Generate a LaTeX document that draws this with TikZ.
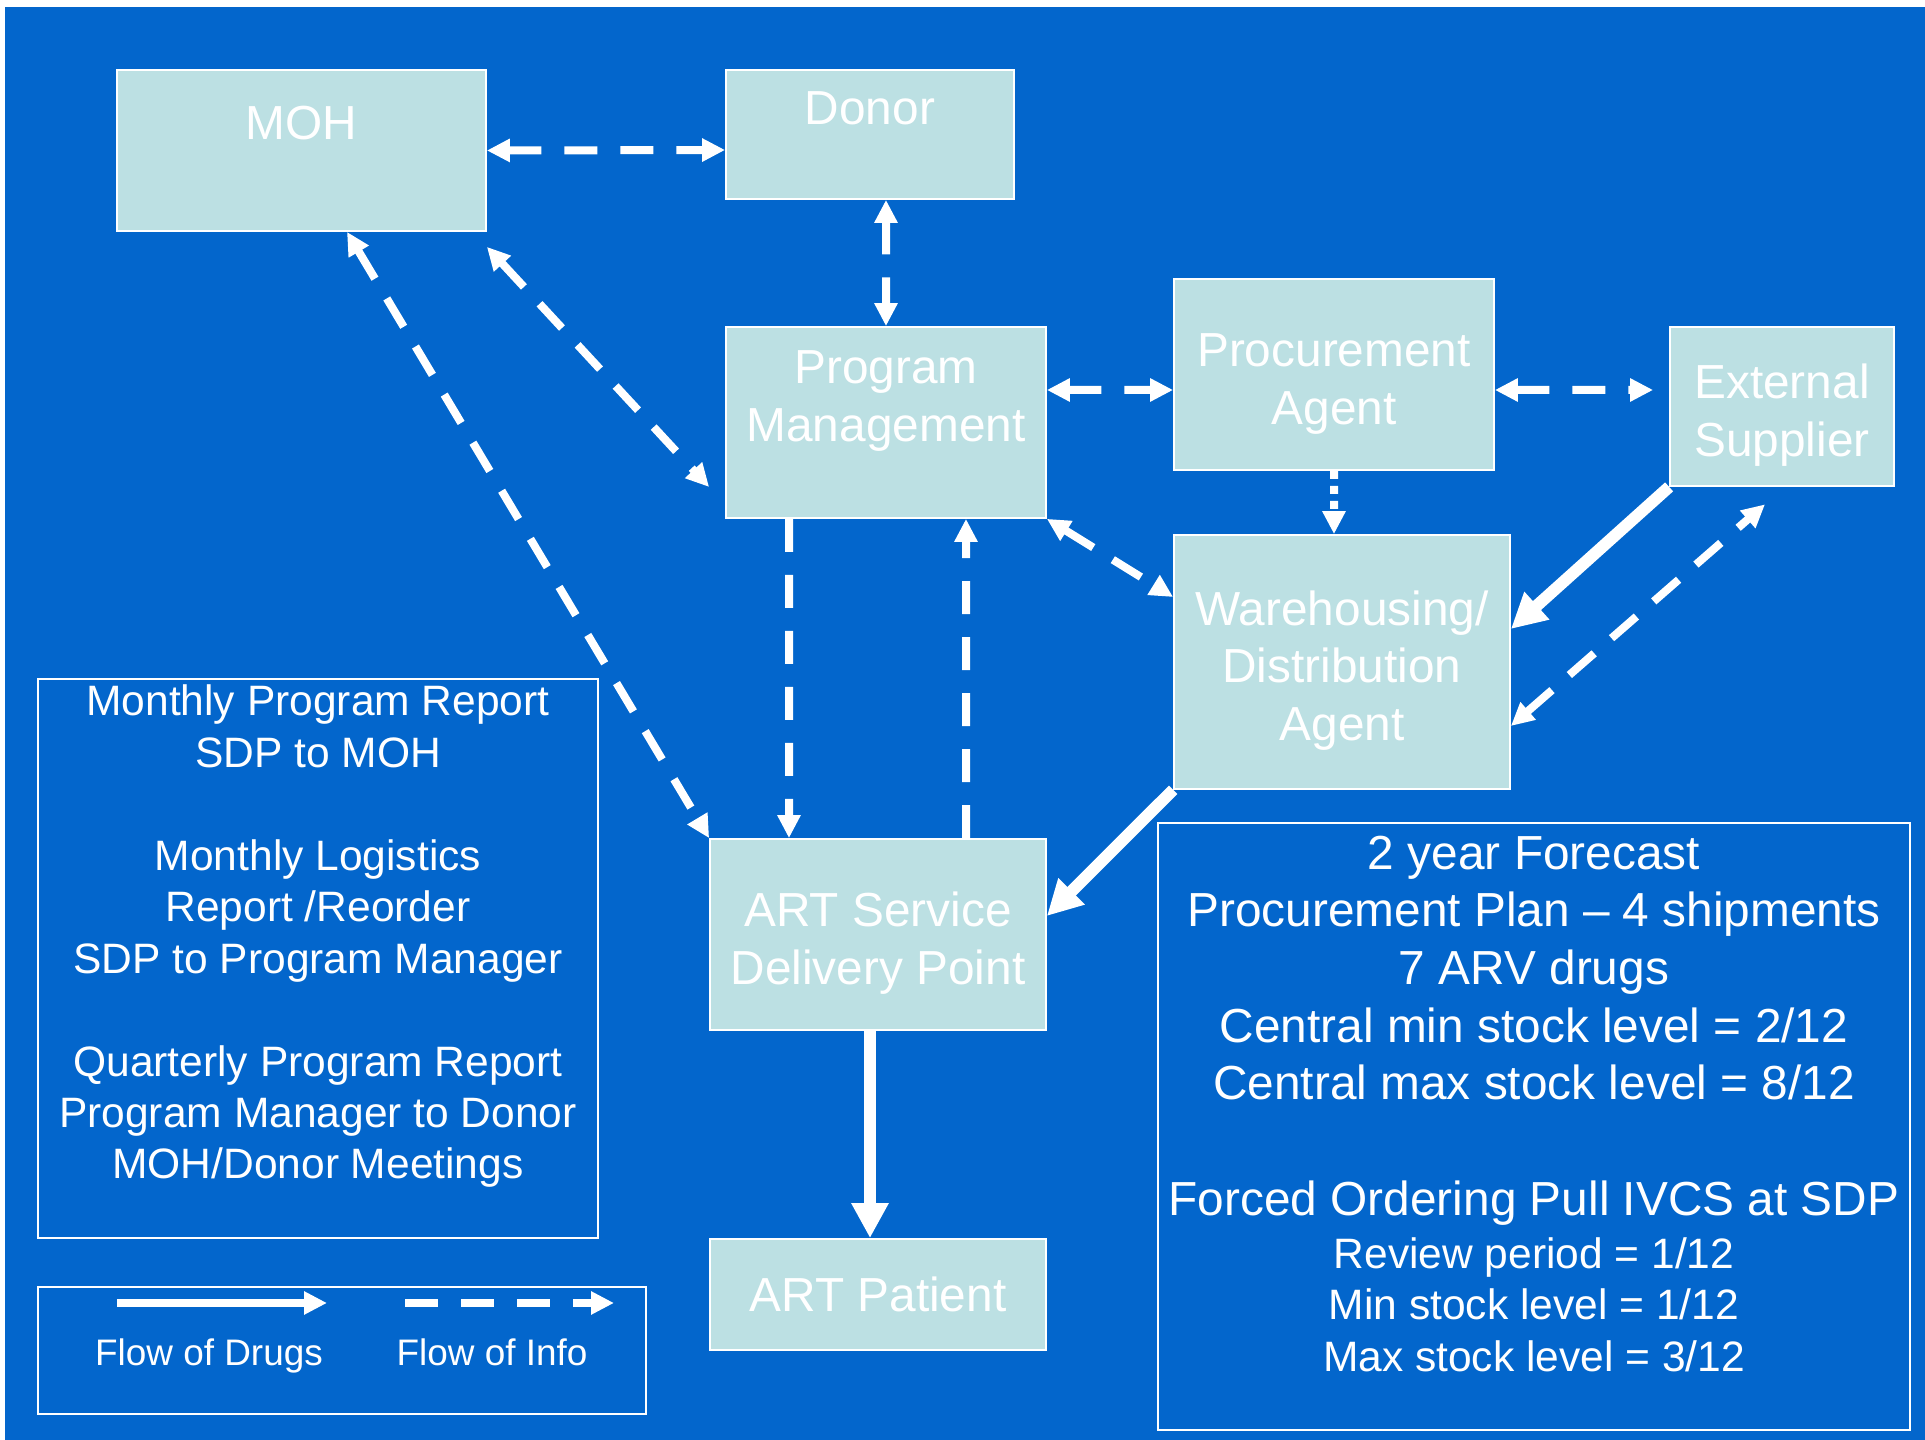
\documentclass[tikz,border=0pt]{standalone}
\usepackage{fontspec}
\setmainfont{Liberation Sans}
\usepackage{tikz}
\usetikzlibrary{arrows.meta}

\definecolor{slideblue}{RGB}{3,102,204}
\definecolor{boxfill}{RGB}{188,224,227}
\newcommand\boxfont{\fontsize{13.6}{16.4}\selectfont}
\newcommand\notefont{\fontsize{12.1}{14.65}\selectfont}
\newcommand\keyfont{\fontsize{10.5}{12.6}\selectfont}
\newcommand\topgap{\rule{0pt}{14.6pt}}

\begin{document}
\begin{tikzpicture}[x=0.1mm, y=-0.1mm,
        box/.style={rectangle, draw=white, line width=0.5pt, fill=boxfill, text=white, align=center, inner sep=0pt, font=\boxfont},
        frame/.style={rectangle, draw=white, line width=0.5pt, inner sep=0pt},
        boxtext/.style={text=white, align=center, inner sep=0pt, font=\boxfont},
        notetext/.style={text=white, align=center, inner sep=0pt, font=\notefont},
        keytext/.style={text=white, align=center, inner sep=0pt, font=\keyfont},
        >={Triangle[length=2.3mm, width=2.2mm]},
        info/.style={draw=white, line width=0.8mm, dash pattern=on 3.3mm off 2.3mm},
        drug/.style={draw=white, line width=1.2mm, -{Triangle[length=3.5mm, width=3.5mm]}}]
    \useasboundingbox (0,0) rectangle (1925,1440);
    \fill[white] (0,0) rectangle (1925,1440);
    \fill[slideblue] (5,7) rectangle (1925,1440);

    % boxes
    \node[box, minimum width=36.9mm, minimum height=16.1mm] (moh) at (301.5,150.5) {};
    \node[boxtext] (mohlabel) at ([yshift=2.75mm]moh.center) {MOH};
    \node[box, minimum width=28.8mm, minimum height=12.9mm] (donor) at (870,134.5) {};
    \node[boxtext] (donorlabel) at ([yshift=2.65mm]donor.center) {Donor};
    \node[box, minimum width=32mm, minimum height=19.1mm] (pm) at (886,422.5) {};
    \node[boxtext] (pmlabel) at ([yshift=2.15mm]pm.center) {Program\\Management};
    \node[box, minimum width=32mm, minimum height=19.1mm] (proc) at (1334,374.5) {\topgap Procurement\\Agent};
    \node[box, minimum width=22.4mm, minimum height=15.9mm] (ext) at (1782,406.5) {\topgap External\\Supplier};
    \node[box, minimum width=33.6mm, minimum height=25.4mm] (ware) at (1342,662) {\topgap Warehousing/\\Distribution\\Agent};
    \node[box, minimum width=33.6mm, minimum height=19.1mm] (sdp) at (878,934.5) {\topgap ART Service\\Delivery Point};
    \node[box, minimum width=33.6mm, minimum height=11.1mm] (patient) at (878,1294.5) {ART Patient};

    % text frames
    \node[frame, minimum width=56mm, minimum height=55.9mm] (reports) at (318,958.5) {};
    \node[notetext] (reportlines) at ([yshift=2.22mm]reports.center) {Monthly Program Report\\SDP to MOH\\[\baselineskip]Monthly Logistics\\Report /Reorder\\SDP to Program Manager\\[\baselineskip]Quarterly Program Report\\Program Manager to Donor\\MOH/Donor Meetings};
    \node[frame, minimum width=75.2mm, minimum height=60.7mm] (plan) at (1534,1126.5) {};
    \node[boxtext] (forecast) at ([yshift=15.85mm]plan.center) {2 year Forecast\\Procurement Plan -- 4 shipments\\7 ARV drugs\\Central min stock level = 2/12\\Central max stock level = 8/12};
    \node[boxtext] (pull) at ([yshift=-7.65mm]plan.center) {Forced Ordering Pull IVCS at SDP};
    \node[notetext] (review) at ([yshift=-17.8mm]plan.center) {Review period = 1/12\\Min stock level = 1/12\\Max stock level = 3/12};

    % legend
    \node[frame, minimum width=60.8mm, minimum height=12.7mm] (legend) at (342,1350.5) {};
    \coordinate (drugsfrom) at (117,1303);
    \coordinate (drugsto) at (327,1303);
    \coordinate (infofrom) at (405,1303);
    \coordinate (infoto) at (614,1303);
    \node[keytext] (drugslabel) at (209,1356) {Flow of Drugs};
    \node[keytext] (infolabel) at (492,1352) {Flow of Info};
    \draw[info, solid, ->] (drugsfrom) -- (drugsto);
    \draw[info, ->] (infofrom) -- (infoto);

    % flow of info
    \draw[info, <->] (moh.east) -- ([yshift=-1.55mm]donor.west);
    \draw[info, <->] ([xshift=1.6mm]donor.south) -- (pm.north);
    \draw[info, <->] ([xshift=4.55mm]moh.south) -- (sdp.north west);
    \draw[info, <->] ([yshift=-1.5mm]moh.south east) -- ([shift={(-1.6mm,-6.45mm)}]pm.west);
    \draw[info, <->] ([yshift=3.25mm]pm.east) -- ([yshift=-1.55mm]proc.west);
    \draw[info, <->] ([yshift=-1.55mm]proc.east) -- ([shift={(-1.6mm,1.65mm)}]ext.west);
    \draw[info, ->, dash pattern=on 0.8mm off 0.7mm] (proc.south) -- ([xshift=-0.8mm]ware.north);
    \draw[info, <->] (pm.south east) -- ([yshift=6.5mm]ware.west);
    \draw[info, <->] ([yshift=-6.4mm]ware.east) -- ([shift={(-1.7mm,-1.75mm)}]ext.south);
    \draw[info, ->] ([xshift=-9.7mm]pm.south) -- ([xshift=-8.9mm]sdp.north);
    \draw[info, ->] ([xshift=8.8mm]sdp.north) -- ([xshift=8mm]pm.south);

    % flow of drugs
    \draw[drug] (ext.south west) -- ([yshift=3.3mm]ware.east);
    \draw[drug] (ware.south west) -- ([yshift=1.85mm]sdp.east);
    \draw[drug] ([xshift=-0.8mm]sdp.south) -- ([xshift=-0.8mm]patient.north);
\end{tikzpicture}
\end{document}
